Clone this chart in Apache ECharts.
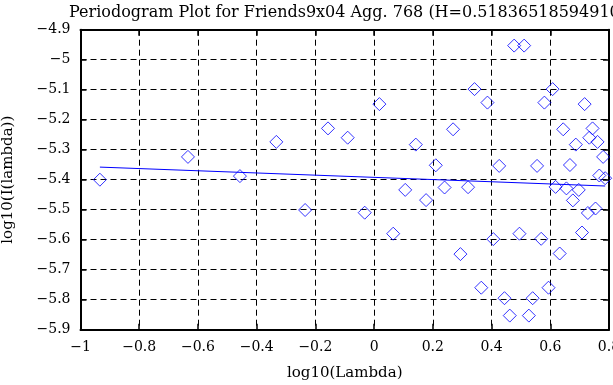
<!DOCTYPE html>
<html>
<head>
<meta charset="utf-8">
<script src="https://cdn.jsdelivr.net/npm/echarts@6/dist/echarts.min.js"></script>
<style>html,body{margin:0;padding:0;background:#fff;}#c{width:613px;height:385px;}</style>
</head>
<body>
<div id="c"></div>
<script>
const titleText = 'Periodogram Plot for Friends9x04 Agg. 768 (H=0.518365185949102)';
const xName = 'log10(Lambda)';
const yName = 'log10(I(lambda))';
const pointX = [-0.934, -0.634, -0.457, -0.333, -0.235, -0.157, -0.090, -0.032, 0.018, 0.065, 0.106, 0.142, 0.177, 0.210, 0.240, 0.269, 0.294, 0.320, 0.342, 0.365, 0.386, 0.406, 0.426, 0.444, 0.462, 0.477, 0.495, 0.511, 0.527, 0.540, 0.555, 0.569, 0.580, 0.594, 0.608, 0.618, 0.632, 0.644, 0.655, 0.667, 0.677, 0.687, 0.697, 0.708, 0.717, 0.728, 0.733, 0.744, 0.754, 0.761, 0.767, 0.780, 0.787];
const pointY = [-5.400, -5.324, -5.388, -5.274, -5.501, -5.229, -5.260, -5.510, -5.148, -5.580, -5.434, -5.283, -5.468, -5.352, -5.426, -5.232, -5.648, -5.425, -5.098, -5.760, -5.143, -5.598, -5.354, -5.795, -5.853, -4.953, -5.580, -4.953, -5.853, -5.795, -5.354, -5.597, -5.143, -5.760, -5.098, -5.424, -5.646, -5.232, -5.429, -5.351, -5.469, -5.283, -5.434, -5.576, -5.148, -5.511, -5.260, -5.229, -5.496, -5.274, -5.386, -5.324, -5.395];
const fitX = [-0.934, 0.787];
const fitY = [-5.358, -5.421];
const xTicks = {min: -1, max: 0.8, interval: 0.2};
const yTicks = {min: -5.9, max: -4.9, interval: 0.1};

const fmt = v => { let s = String(+(+v).toFixed(1)); return s.replace('-', '\u2212'); };
const font = '"DejaVu Serif", "Liberation Serif", serif';
const fs = 14;
const lineStyle = {color: '#000', width: 2};
const gridDash = {color: '#000', type: [6, 4], width: 1};

const chart = echarts.init(document.getElementById('c'), null, {renderer: 'canvas'});
chart.setOption({
  animation: false,
  backgroundColor: '#fff',
  title: {text: titleText, left: 64, top: 0, textStyle: {fontFamily: font, fontSize: 16, fontWeight: 'normal', color: '#000'}},
  grid: {left: 80.5, right: 4, top: 29.7, bottom: 55.3, containLabel: false, outerBoundsMode: 'none'},
  xAxis: [
    {type: 'value', position: 'bottom', min: xTicks.min, max: xTicks.max, interval: xTicks.interval,
     name: xName, nameLocation: 'middle', nameGap: 36, nameTextStyle: {fontFamily: font, fontSize: 15, color: '#000'},
     axisLine: {show: true, lineStyle: lineStyle, onZero: false},
     axisTick: {show: true, inside: true, length: 6, lineStyle: {color: '#000', width: 1.5}},
     axisLabel: {fontFamily: font, fontSize: fs, color: '#000', margin: 11, formatter: fmt},
     splitLine: {show: true, lineStyle: gridDash}},
    {type: 'value', position: 'top', min: xTicks.min, max: xTicks.max, interval: xTicks.interval,
     axisLine: {show: true, lineStyle: lineStyle, onZero: false},
     axisTick: {show: true, inside: true, length: 6, lineStyle: {color: '#000', width: 1.5}},
     axisLabel: {show: false}, splitLine: {show: false}}
  ],
  yAxis: [
    {type: 'value', position: 'left', min: yTicks.min, max: yTicks.max, interval: yTicks.interval,
     name: yName, nameLocation: 'middle', nameGap: 65, nameTextStyle: {fontFamily: font, fontSize: 15, color: '#000'},
     axisLine: {show: true, lineStyle: lineStyle, onZero: false},
     axisTick: {show: true, inside: true, length: 6, lineStyle: {color: '#000', width: 1.5}},
     axisLabel: {fontFamily: font, fontSize: fs, color: '#000', margin: 10, formatter: fmt},
     splitLine: {show: true, lineStyle: gridDash}},
    {type: 'value', position: 'right', min: yTicks.min, max: yTicks.max, interval: yTicks.interval,
     axisLine: {show: true, lineStyle: lineStyle, onZero: false},
     axisTick: {show: true, inside: true, length: 6, lineStyle: {color: '#000', width: 1.5}},
     axisLabel: {show: false}, splitLine: {show: false}}
  ],
  series: [
    {type: 'scatter', xAxisIndex: 0, yAxisIndex: 0, symbol: 'diamond', symbolSize: 13,
     itemStyle: {color: 'rgba(0,0,0,0)', borderColor: '#0000ff', borderWidth: 1},
     data: pointX.map((x, i) => [x, pointY[i]]), z: 3},
    {type: 'line', xAxisIndex: 0, yAxisIndex: 0, showSymbol: false, symbol: 'none',
     lineStyle: {color: '#0000ff', width: 1}, data: fitX.map((x, i) => [x, fitY[i]]), z: 2}
  ]
});
</script>
</body>
</html>
